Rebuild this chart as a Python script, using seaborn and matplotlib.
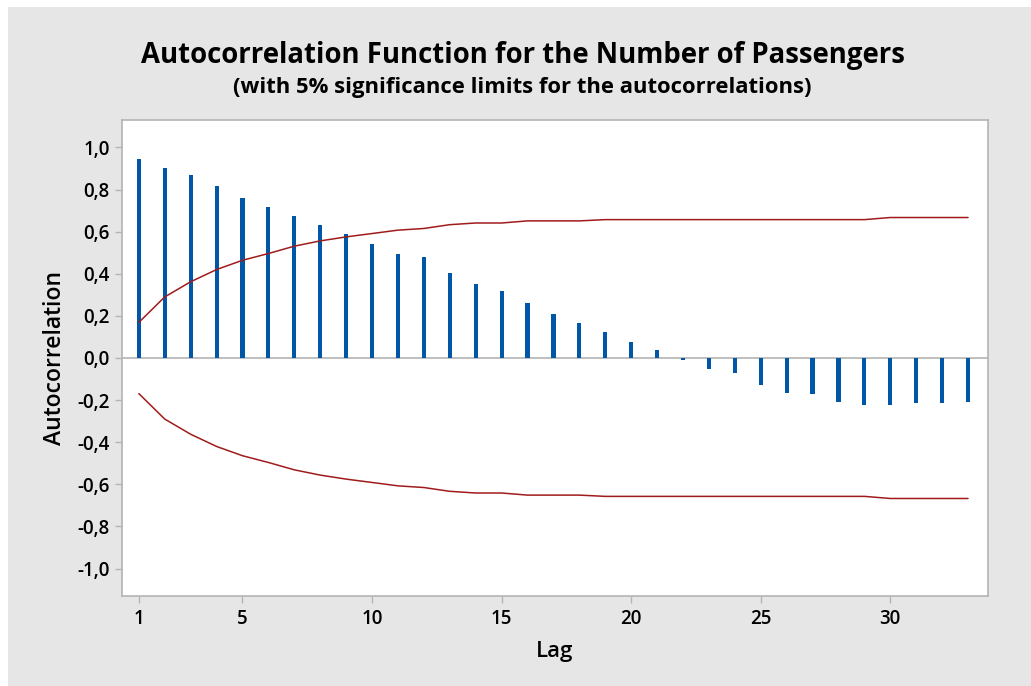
"""
ACF plot for the number of passengers, Minitab-style layout.
Saves out.png at 1031x686.
"""

import matplotlib.pyplot as plt
from matplotlib.patches import Rectangle
from matplotlib.ticker import FuncFormatter
import numpy as np
import pandas as pd
import seaborn as sns

# values
lags = list(range(1, 34))
acf = [0.946, 0.904, 0.870, 0.818, 0.758, 0.716, 0.673, 0.632, 0.589, 0.539,
       0.496, 0.479, 0.403, 0.352, 0.318, 0.259, 0.209, 0.166, 0.123, 0.074,
       0.039, -0.010, -0.054, -0.070, -0.129, -0.164, -0.172, -0.207, -0.224,
       -0.224, -0.215, -0.215, -0.207]
upper_limit = [0.169, 0.290, 0.362, 0.420, 0.464, 0.496, 0.531, 0.556, 0.575,
               0.591, 0.607, 0.615, 0.633, 0.641, 0.641, 0.651, 0.651, 0.651,
               0.657, 0.657, 0.657, 0.657, 0.657, 0.657, 0.657, 0.657, 0.657,
               0.657, 0.657, 0.667, 0.667, 0.667, 0.667]
lower_limit = [-v for v in upper_limit]
x_ticks = [1, 5, 10, 15, 20, 25, 30]
y_ticks = [-1.0, -0.8, -0.6, -0.4, -0.2, 0.0, 0.2, 0.4, 0.6, 0.8, 1.0]

title = "Autocorrelation Function for the Number of Passengers"
subtitle = "(with 5% significance limits for the autocorrelations)"

BAR_COLOR = "#0057a8"
LIMIT_COLOR = "#a01c1c"
BG_COLOR = "#e6e6e6"
FRAME_COLOR = "#b4b4b4"

sns.set_style("white")
plt.rcParams["font.family"] = ["Open Sans", "DejaVu Sans"]
plt.rcParams["text.color"] = "black"
plt.rcParams["xtick.color"] = "black"
plt.rcParams["ytick.color"] = "black"
plt.rcParams["axes.labelcolor"] = "black"

df = pd.DataFrame({"lag": lags, "acf": acf, "upper": upper_limit, "lower": lower_limit})

fig = plt.figure(figsize=(10.31, 6.86), dpi=100, facecolor="white")
fig.patches.append(Rectangle((8 / 1031, 0), 1, 679 / 686, transform=fig.transFigure,
                             facecolor=BG_COLOR, edgecolor="none", zorder=-5))
ax = fig.add_axes([122 / 1031, 1 - 596 / 686, 866 / 1031, 476 / 686])
ax.set_facecolor("white")

ax.axhline(0, color=FRAME_COLOR, linewidth=1.2, zorder=1)
sns.barplot(data=df, x="lag", y="acf", native_scale=True, width=0.16,
            color=BAR_COLOR, saturation=1, edgecolor="none", ax=ax, zorder=2)
sns.lineplot(data=df, x="lag", y="upper", color=LIMIT_COLOR, linewidth=1.1, ax=ax, zorder=3)
sns.lineplot(data=df, x="lag", y="lower", color=LIMIT_COLOR, linewidth=1.1, ax=ax, zorder=3)

ax.set_xlim(0.35, 33.77)
ax.set_ylim(-1.13, 1.13)
ax.set_xticks(x_ticks)
ax.set_yticks(y_ticks)
ax.yaxis.set_major_formatter(FuncFormatter(lambda v, _: f"{v:.1f}".replace(".", ",").replace("-0,0", "0,0")))
ax.tick_params(axis="both", direction="out", length=5, width=1, color=FRAME_COLOR,
               labelsize=13.5, pad=4, bottom=True, left=True)
for lbl in ax.get_xticklabels() + ax.get_yticklabels():
    lbl.set_fontweight("semibold")
for spine in ax.spines.values():
    spine.set_color(FRAME_COLOR)
    spine.set_linewidth(1.2)

ax.set_xlabel("Lag", fontsize=16, fontweight="semibold", labelpad=9)
ax.set_ylabel("Autocorrelation", fontsize=16.5, fontweight="semibold", labelpad=7)

fig.text(0.507, 1 - 55 / 686, title, ha="center", va="center", fontsize=19.8, fontweight="bold")
fig.text(0.507, 1 - 88 / 686, subtitle, ha="center", va="center", fontsize=15.8, fontweight="bold")

fig.savefig("out.png", dpi=100, facecolor=fig.get_facecolor())
